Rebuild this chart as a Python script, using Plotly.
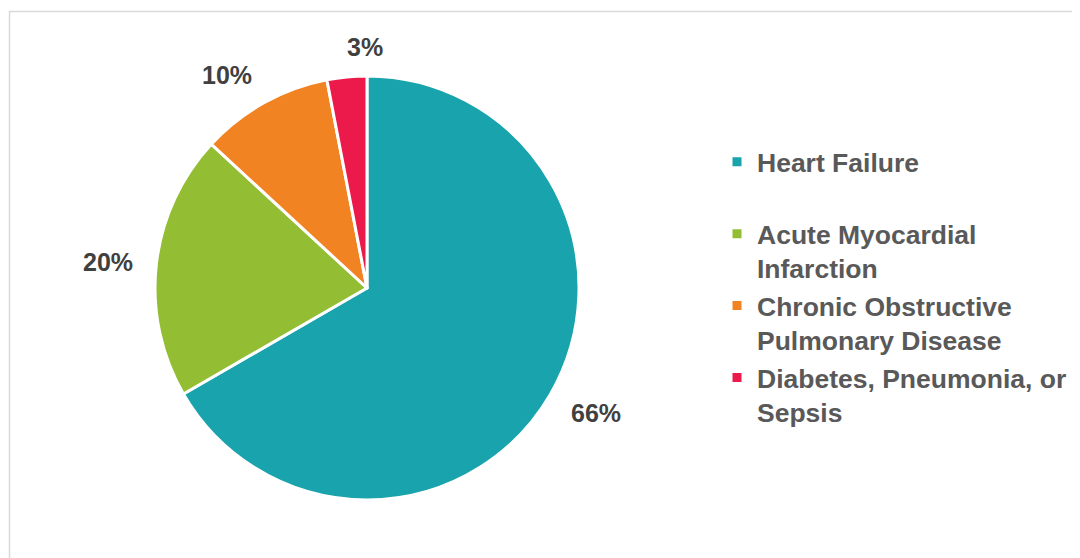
import math
import plotly.graph_objects as go

categories = ["Heart Failure", "Acute Myocardial Infarction",
              "Chronic Obstructive Pulmonary Disease", "Diabetes, Pneumonia, or Sepsis"]
legend_labels = ["Heart Failure<br> ", "Acute Myocardial<br>Infarction",
                 "Chronic Obstructive<br>Pulmonary Disease", "Diabetes, Pneumonia, or<br>Sepsis"]
values = [66, 20, 10, 3]
colors = ["#18A3AD", "#93BD33", "#F28323", "#EC1A4B"]

W, H = 1080, 558
OFF = 8  # page body margin
cx, cy, R = 367 - OFF, 288 - OFF, 212
label_dist = 233
GLYPH_PAD = 7  # gap between annotation box edge and glyphs
FONT = "Liberation Sans"

fig = go.Figure(go.Pie(
    labels=legend_labels,
    values=values,
    sort=False,
    direction="clockwise",
    rotation=0,
    textinfo="none",
    hoverinfo="label+value",
    marker=dict(colors=colors, line=dict(color="white", width=3)),
    domain=dict(x=[(cx - R) / W, (cx + R) / W], y=[1 - (cy + R) / H, 1 - (cy - R) / H]),
))

total = sum(values)
cum = 0
annotations = []
for v in values:
    mid = (cum + v / 2) / total * 2 * math.pi
    cum += v
    dx, dy = math.sin(mid), math.cos(mid)  # dy positive = up
    px = cx + label_dist * dx
    py = cy - label_dist * dy
    xanchor = "left" if dx >= -0.2 else "right"
    if dy < -0.3:
        yanchor, ys = "top", GLYPH_PAD
    elif dy > 0.3:
        yanchor, ys = "bottom", -GLYPH_PAD
    else:
        yanchor, ys = "middle", 0
    annotations.append(dict(
        x=px / W, y=1 - py / H, xref="paper", yref="paper", yshift=ys,
        text=f"{v}%", showarrow=False, xanchor=xanchor, yanchor=yanchor,
        font=dict(family=FONT, size=25, color="#404040", weight="bold"),
    ))

fig.update_layout(
    width=W, height=H,
    margin=dict(l=0, r=0, t=0, b=0),
    paper_bgcolor="white",
    plot_bgcolor="white",
    showlegend=True,
    legend=dict(
        x=(717 - OFF) / W, y=1 - (138 - OFF) / H, xanchor="left", yanchor="top",
        valign="top",
        font=dict(family=FONT, size=26.5, color="#595959", weight="bold"),
        itemclick=False,
    ),
    annotations=annotations,
    shapes=[dict(type="rect", xref="paper", yref="paper",
                 x0=(9.5 - OFF) / W, x1=1.02, y0=-0.05, y1=1 - (11.5 - OFF) / H,
                 line=dict(color="#D9D9D9", width=1.5), fillcolor="rgba(0,0,0,0)", layer="below")],
)

fig.write_html("out.html")
